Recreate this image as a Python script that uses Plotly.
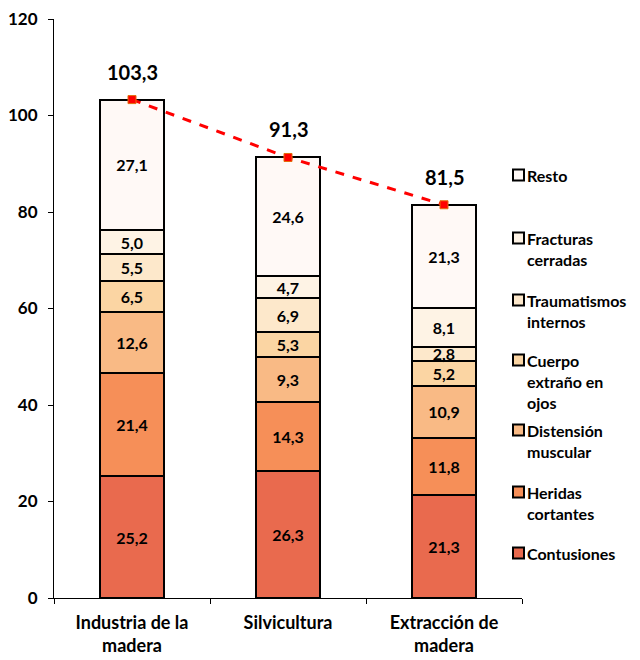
import plotly.graph_objects as go

categories = ["Industria de la<br>madera", "Silvicultura", "Extracción de<br>madera"]

series_names = [
    "Contusiones",
    "Heridas cortantes",
    "Distensión muscular",
    "Cuerpo extraño en ojos",
    "Traumatismos internos",
    "Fracturas cerradas",
    "Resto",
]
legend_labels = [
    "Contusiones",
    "Heridas<br>cortantes",
    "Distensión<br>muscular",
    "Cuerpo<br>extraño en<br>ojos",
    "Traumatismos<br>internos",
    "Fracturas<br>cerradas",
    "Resto",
]

contusiones = [25.2, 26.3, 21.3]
heridas = [21.4, 14.3, 11.8]
distension = [12.6, 9.3, 10.9]
cuerpo_extrano = [6.5, 5.3, 5.2]
traumatismos = [5.5, 6.9, 2.8]
fracturas = [5.0, 4.7, 8.1]
resto = [27.1, 24.6, 21.3]
totals = [103.3, 91.3, 81.5]

series_values = [contusiones, heridas, distension, cuerpo_extrano, traumatismos, fracturas, resto]
colors = ["#E96A4E", "#F68F58", "#F9BA85", "#FBD5A3", "#FDE8CB", "#FEF3E5", "#FFF9F6"]

FONT = "Lato"


def fmt(v):
    return f"{v:.1f}".replace(".", ",")


fig = go.Figure()
for name, vals, col in zip(series_names, series_values, colors):
    fig.add_trace(go.Bar(
        x=categories, y=vals, name=name,
        marker=dict(color=col, line=dict(color="black", width=2)),
        text=[fmt(v) for v in vals],
        textposition="inside", insidetextanchor="middle",
        textangle=0, constraintext="none",
        textfont=dict(family=FONT, size=16, color="black", weight="bold"),
        width=0.41, showlegend=False,
    ))

fig.add_trace(go.Scatter(
    x=categories, y=totals, mode="lines+markers",
    line=dict(color="#FF0000", width=3, dash="dash"),
    marker=dict(symbol="square", size=8, color="#FF0000", line=dict(color="#E46C0A", width=1)),
    showlegend=False,
))

for c, t in zip(categories, totals):
    fig.add_annotation(x=c, y=t, text=fmt(t), showarrow=False, yshift=28,
                       font=dict(family=FONT, size=20, color="black", weight="bold"))

# legend drawn by hand to reproduce spacing
L, R, T, B = 54, 522, 19, 598
def pxx(x):
    return (x - L) / (R - L)
def pxy(y):
    return (B - y) / (B - T)

legend_y = [553, 492, 430, 360, 300, 238, 175]
for lab, col, yy in zip(legend_labels, colors, legend_y):
    fig.add_shape(type="rect", xref="paper", yref="paper",
                  x0=pxx(513), x1=pxx(524), y0=pxy(yy + 5.5), y1=pxy(yy - 5.5),
                  fillcolor=col, line=dict(color="black", width=2))
    fig.add_annotation(xref="paper", yref="paper", x=pxx(525), y=pxy(yy - 11),
                       xanchor="left", yanchor="top", align="left", showarrow=False,
                       text=lab, font=dict(family=FONT, size=16, color="black", weight="bold"))

fig.update_layout(
    barmode="stack",
    width=640, height=660,
    margin=dict(l=L, r=640 - R, t=T, b=660 - B, autoexpand=False),
    paper_bgcolor="white", plot_bgcolor="white",
    font=dict(family=FONT, color="black"),
    xaxis=dict(
        range=[-0.5, 2.5], showline=True, linecolor="black", linewidth=1,
        ticks="outside", tickson="boundaries", ticklen=5, tickcolor="black",
        tickfont=dict(family=FONT, size=18, weight="bold"), automargin=False,
        ticklabelstandoff=8,
    ),
    yaxis=dict(
        range=[0, 120], dtick=20, showline=True, linecolor="black", linewidth=1,
        ticks="outside", ticklen=5, tickcolor="black", showgrid=False, zeroline=False,
        tickfont=dict(family=FONT, size=17, weight="bold"), automargin=False,
        ticklabelstandoff=7,
    ),
)

fig.write_html("out.html", config={"displayModeBar": False},
               post_script="document.body.style.margin='0';")
